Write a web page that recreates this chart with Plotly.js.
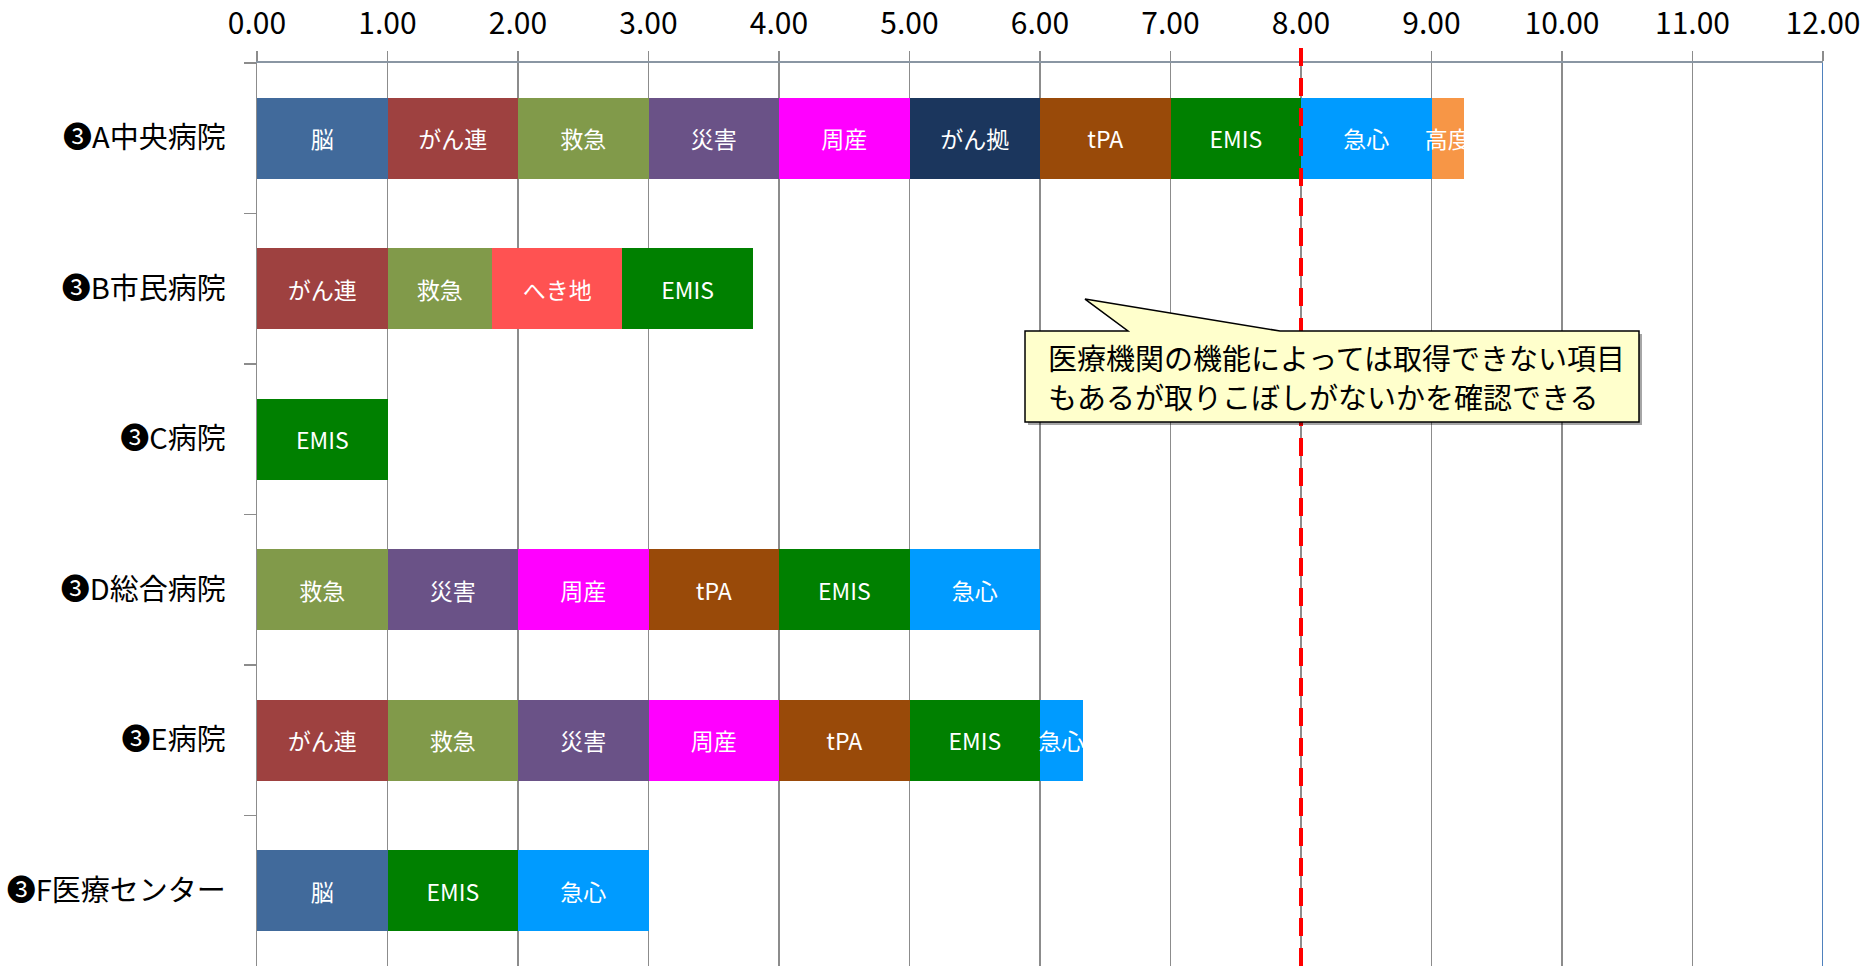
<!DOCTYPE html>
<html>
<head>
<meta charset="utf-8">
<script src="https://cdn.plot.ly/plotly-3.0.1.min.js"></script>
<style>html,body{margin:0;padding:0;background:#fff;}#chart{width:1873px;height:966px;}</style>
</head>
<body>
<div id="chart"></div>
<script>
// ---- data ----
const hospitals = ['❸A中央病院', '❸B市民病院', '❸C病院', '❸D総合病院', '❸E病院', '❸F医療センター'];
const seriesNames = ['脳', 'がん連', '救急', 'へき地', '災害', '周産', 'がん拠', 'tPA', 'EMIS', '急心', '高度'];
const vNou     = [1,    null, null, null, null, 1];
const vGanRen  = [1,    1,    null, null, 1,    null];
const vKyukyu  = [1,    0.8,  null, 1,    1,    null];
const vHekichi = [null, 1.0,  null, null, null, null];
const vSaigai  = [1,    null, null, 1,    1,    null];
const vShusan  = [1,    null, null, 1,    1,    null];
const vGanKyo  = [1,    null, null, null, null, null];
const vTPA     = [1,    null, null, 1,    1,    null];
const vEMIS    = [1,    1,    1,    1,    1,    1];
const vKyushin = [1,    null, null, 1,    0.33, 1];
const vKodo    = [0.25, null, null, null, null, null];
const seriesValues = [vNou, vGanRen, vKyukyu, vHekichi, vSaigai, vShusan, vGanKyo, vTPA, vEMIS, vKyushin, vKodo];
const xTickVals = [0,1,2,3,4,5,6,7,8,9,10,11,12];
const xTickText = ['0.00','1.00','2.00','3.00','4.00','5.00','6.00','7.00','8.00','9.00','10.00','11.00','12.00'];
const targetLine = 8;
const calloutLines = ['医療機関の機能によっては取得できない項目', 'もあるが取りこぼしがないかを確認できる'];

// ---- styles ----
const colors = ['#416A9B', '#9E4140', '#819A4A', '#FF5252', '#6A5287', '#FF00FF', '#1B365D', '#994A09', '#008000', '#009BFF', '#F79646'];
const W = 1873, H = 966;
const M = {l: 257, r: 50, t: 63, b: 0};
const xMax = 12;
const plotW = W - M.l - M.r, plotH = H - M.t - M.b;
const px2x = p => (p - M.l) / plotW * xMax;
const py2y = p => 1 - (p - M.t) / plotH;
const FONT = '"Noto Sans CJK JP", "Noto Sans", sans-serif';

const traces = seriesNames.map((name, i) => ({
  type: 'bar',
  orientation: 'h',
  name: name,
  y: hospitals,
  x: seriesValues[i],
  marker: {color: colors[i], line: {width: 0}},
  text: name,
  textposition: 'inside',
  insidetextanchor: 'middle',
  textangle: 0,
  constraintext: 'none',
  textfont: {family: FONT, size: 23, color: '#ffffff'},
  hoverinfo: 'skip'
}));

// callout geometry (pixels)
const box = {x0: 1025, y0: 331, x1: 1639, y1: 422};
const wedge = {bx0: 1128, bx1: 1280, tx: 1085, ty: 299};
function calloutPath(dx, dy) {
  const X = p => px2x(p + dx).toFixed(4), Y = p => py2y(p + dy).toFixed(4);
  return `M ${X(box.x0)},${Y(box.y0)} L ${X(wedge.bx0)},${Y(box.y0)} L ${X(wedge.tx)},${Y(wedge.ty)} ` +
         `L ${X(wedge.bx1)},${Y(box.y0)} L ${X(box.x1)},${Y(box.y0)} L ${X(box.x1)},${Y(box.y1)} L ${X(box.x0)},${Y(box.y1)} Z`;
}

const layout = {
  width: W, height: H,
  margin: M,
  paper_bgcolor: '#ffffff',
  plot_bgcolor: '#ffffff',
  barmode: 'stack',
  bargap: 0.46,
  showlegend: false,
  font: {family: FONT, color: '#000'},
  xaxis: {
    side: 'top',
    range: [0, xMax],
    tickvals: xTickVals,
    ticktext: xTickText,
    tickfont: {family: FONT, size: 30, color: '#000'},
    showgrid: true, gridcolor: '#8c8c8c', gridwidth: 1.5,
    zeroline: false,
    showline: true, linecolor: '#8A96A3', linewidth: 2,
    ticks: 'outside', ticklen: 10, tickcolor: '#8c8c8c', tickwidth: 1.5,
    ticklabelstandoff: 5,
    fixedrange: true
  },
  yaxis: {
    type: 'category',
    autorange: 'reversed',
    tickfont: {family: FONT, size: 29, color: '#000'},
    showgrid: false,
    zeroline: false,
    showline: true, linecolor: '#8c8c8c', linewidth: 1.5,
    ticks: 'outside', tickson: 'boundaries', ticklen: 12, tickcolor: '#8c8c8c', tickwidth: 1.5,
    ticklabelstandoff: 24,
    fixedrange: true
  },
  shapes: [
    {type: 'line', xref: 'x', yref: 'paper', x0: xMax, x1: xMax, y0: 0, y1: 1,
     line: {color: '#4F81BD', width: 2}},
    {type: 'line', xref: 'x', yref: 'paper', x0: targetLine, x1: targetLine, y0: 0, y1: 1 + 20 / plotH,
     line: {color: '#FF0000', width: 4, dash: '18px,12px'}},
    {type: 'path', xref: 'x', yref: 'paper', path: calloutPath(3, 3),
     fillcolor: 'rgba(0,0,0,0.35)', line: {width: 0}},
    {type: 'path', xref: 'x', yref: 'paper', path: calloutPath(0, 0),
     fillcolor: '#FFFFCC', line: {color: '#000000', width: 1.5}}
  ],
  annotations: [
    {xref: 'x', yref: 'paper', x: px2x(1046), y: py2y(357), xanchor: 'left', yanchor: 'middle',
     text: calloutLines[0], showarrow: false, align: 'left', font: {family: FONT, size: 29, color: '#000'}},
    {xref: 'x', yref: 'paper', x: px2x(1046), y: py2y(396), xanchor: 'left', yanchor: 'middle',
     text: calloutLines[1], showarrow: false, align: 'left', font: {family: FONT, size: 29, color: '#000'}}
  ]
};

Plotly.newPlot('chart', traces, layout, {displayModeBar: false, staticPlot: true});
</script>
</body>
</html>
